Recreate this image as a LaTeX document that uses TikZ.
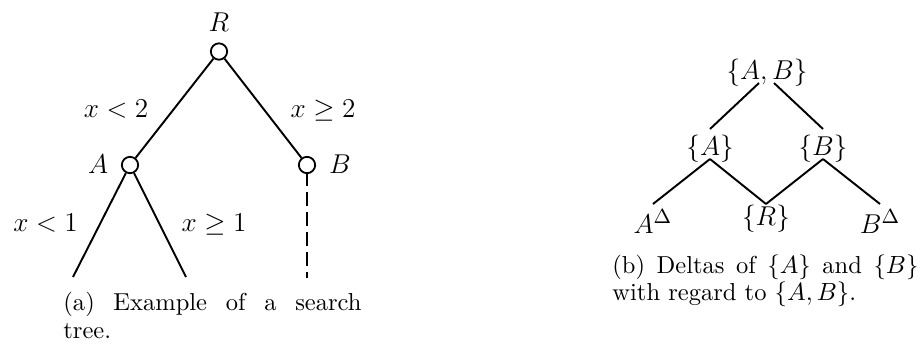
\documentclass[tikz,border=0pt]{standalone}
\usetikzlibrary{calc}
\begin{document}
\begin{tikzpicture}[x=0.4405pt,y=-0.4405pt,
  circ/.style={draw,circle,minimum size=7.2pt,inner sep=0pt,line width=0.8pt,fill=white},
  lnk/.style={line width=0.85pt},
  dashlnk/.style={line width=0.85pt,dash pattern=on 6.17pt off 2.64pt,dash phase=0.88pt},
  lbl/.style={inner sep=0pt,anchor=base,font=\fontsize{12.6}{15}\selectfont},
  captext/.style={anchor=north west,inner sep=0pt,align=justify,font=\fontsize{10.8}{12}\selectfont}]
\useasboundingbox (0,0) rectangle (922,345);
% left tree
\node[lbl] (Rl) at (219,31) {$R$};
\node[lbl] (Al) at (98,173) {$A$};
\node[lbl] (Bl) at (340,173) {$B$};
\coordinate (L1) at (73,277);
\coordinate (L2) at (186,277);
\coordinate (L3) at (307,278);
\coordinate (Rc) at (219,51.5);
\coordinate (Ac) at (130,165);
\coordinate (Bc) at (307,165);
\node[circ] (R) at (Rc) {};
\node[circ] (A) at (Ac) {};
\node[circ] (B) at (Bc) {};
\draw[lnk] (R) -- (A);
\draw[lnk] (R) -- (B);
\draw[lnk] (A) -- (L1);
\draw[lnk] (A) -- (L2);
\draw[dashlnk] (B.south) -- (L3);
\node[lbl] (e1) at (116,117) {$x<2$};
\node[lbl] (e2) at (323,117) {$x\geq 2$};
\node[lbl] (e3) at (45.5,231) {$x<1$};
\node[lbl] (e4) at (214,231) {$x\geq 1$};
\node[captext,text width=131.3pt] (capa) at (63,292) {(a) Example of a search\linebreak tree.};
% right tree
\node[lbl] (AB) at (767,79) {$\{A,B\}$};
\node[lbl] (A2) at (710,155) {$\{A\}$};
\node[lbl] (B2) at (823,155) {$\{B\}$};
\node[lbl] (AD) at (653,233) {$A^{\Delta}$};
\node[lbl] (R2) at (766,225) {$\{R\}$};
\node[lbl] (BD) at (880,233) {$B^{\Delta}$};
\draw[lnk] ($(AB.base)+(-8,4)$) -- ($(A2.base)+(0,-26)$);
\draw[lnk] ($(AB.base)+(7,4)$) -- ($(B2.base)+(0,-26)$);
\draw[lnk] ($(A2.base)+(0,4)$) -- ($(AD.base)+(0,-29)$);
\draw[lnk] ($(A2.base)+(0,4)$) -- ($(R2.base)+(0,-21)$);
\draw[lnk] ($(B2.base)+(0,4)$) -- ($(R2.base)+(0,-21)$);
\draw[lnk] ($(B2.base)+(0,4)$) -- ($(BD.base)+(0,-29)$);
\node[captext,text width=134.8pt] (capb) at (612,254) {(b) Deltas of $\{A\}$ and $\{B\}$\linebreak with regard to $\{A,B\}$.};
\end{tikzpicture}
\end{document}
